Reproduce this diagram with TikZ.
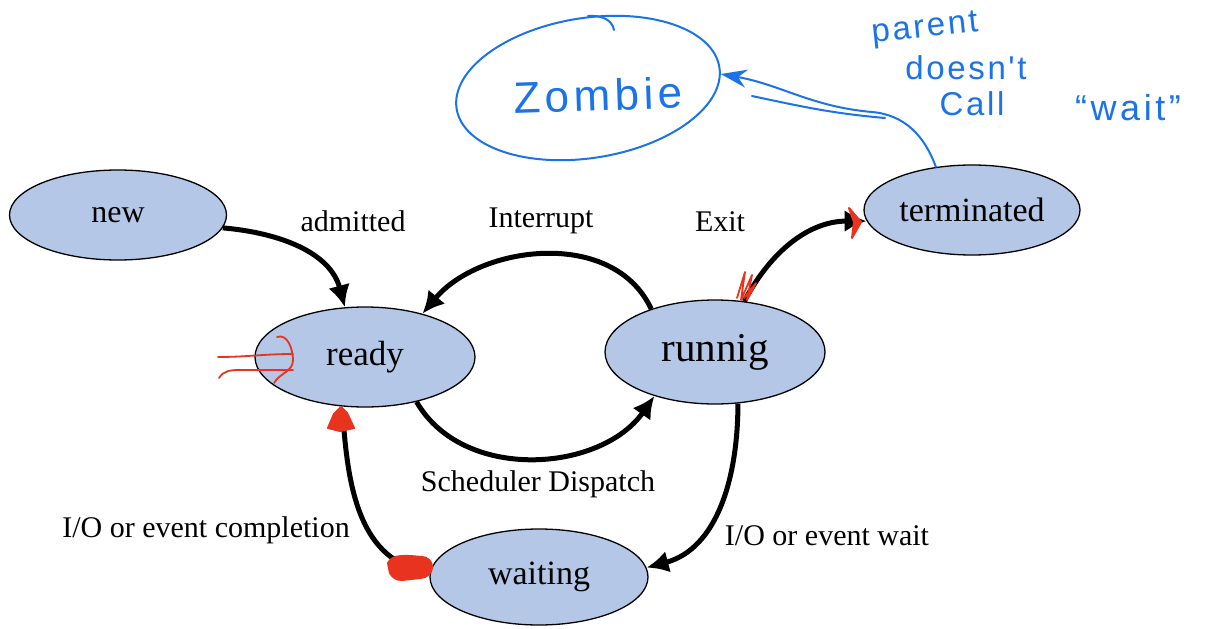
\documentclass[tikz,border=0pt]{standalone}
\usepackage{fontspec}
\setmainfont{Liberation Serif}
\newfontfamily\handfont[LetterSpace=8]{Liberation Sans}
\newfontfamily\handwide[LetterSpace=10]{Liberation Sans}
\usetikzlibrary{shapes.geometric,arrows.meta}
\definecolor{nodefill}{RGB}{180,199,231}
\definecolor{inkblue}{RGB}{26,115,232}
\definecolor{inkred}{RGB}{232,52,30}
\begin{document}
\begin{tikzpicture}[x=1pt,y=-1pt,
  state/.style={ellipse,draw=black,line width=1.3pt,fill=nodefill,inner sep=0pt},
  trans/.style={line width=5pt,-{Latex[length=22pt,width=22pt]}},
  lbl/.style={font=\fontsize{30}{34}\selectfont,inner sep=0pt},
  hand/.style={inkblue,font=\handfont\fontsize{33}{36}\selectfont,inner sep=0pt},
  ink/.style={inkblue,line width=2pt,line cap=round,line join=round},
  redink/.style={inkred,line width=1.8pt,line cap=round,line join=round},
  redblob/.style={inkred,fill=inkred,line width=2pt,line join=round}]
\useasboundingbox (0,0) rectangle (1232,629);

% states
\node[state,minimum width=217pt,minimum height=90pt,font=\fontsize{32}{36}\selectfont] (new) at (118,215) {new};
\node[state,minimum width=220pt,minimum height=100pt,font=\fontsize{35}{40}\selectfont] (ready) at (365,357) {ready};
\node[state,minimum width=220pt,minimum height=104pt,font=\fontsize{41}{46}\selectfont] (run) at (715,352) {runnig};
\node[state,minimum width=216pt,minimum height=90pt,font=\fontsize{34}{38}\selectfont] (term) at (972,210) {terminated};
\node[state,minimum width=218pt,minimum height=96pt,font=\fontsize{34}{38}\selectfont] (wait) at (539,577) {waiting};

% transitions
\draw[trans] (new.-7) to[out=-5,in=105] (ready.112);
\draw[trans] (run.146) to[out=115,in=50] (ready.37);
\draw[trans] (ready.-41) to[out=-60,in=-125] (run.-144);
\draw[trans] (run.-66) to[out=-90,in=15] (wait.5);
\draw[trans] (wait.177) to[out=175,in=-85] (ready.-115);
\draw[trans] (run.60) to[out=62,in=180] (term.186);

% labels
\node[lbl] (ladm) at (353,221) {admitted};
\node[lbl] (lint) at (541,221) {Interrupt};
\node[lbl] (lexit) at (720,222) {Exit};
\node[lbl] (ldisp) at (538,484) {Scheduler Dispatch};
\node[lbl] (lcomp) at (206,530) {I/O or event completion};
\node[lbl] (lwait) at (827,536) {I/O or event wait};

% red scribbles
\draw[redblob] (328,428) -- (334,414) -- (341,407) -- (347,413) -- (354,428) -- (340,431) -- cycle;
\draw[redblob] (388,563) to[out=60,in=180] (410,556) -- (422,557) to[out=0,in=90] (432,567) to[out=-90,in=0] (420,578) -- (402,580) to[out=180,in=-60] (390,573) -- cycle;
\draw[redblob] (849,208) -- (861,222) -- (852,238) -- (854,222) -- cycle;
\draw[redink] (737,298) -- (745,272) -- (741,300) -- (752,275) -- (747,300) -- (756,283) -- (744,298);
\draw[redink] (218,357) to[out=0,in=180] (293,354);
\draw[redink] (219,378) to[out=60,in=180] (240,370) -- (293,370);
\draw[redink] (277,337) to[out=20,in=90] (293,360) to[out=-90,in=60] (274,383);

% zombie annotation
\node[ellipse,draw=inkblue,line width=2pt,minimum width=266pt,minimum height=140pt,rotate=9] (zombie) at (588,88) {};
\draw[ink] (588,16) to[out=5,in=100] (614,30);
\node[inkblue,font=\handwide\fontsize{44}{48}\selectfont,rotate=2] (ztext) at (598,95) {Zombie};
\draw[ink,-{Stealth[length=26pt,width=18pt]}] (term.130) to[out=110,in=-5] (872,112) to[out=175,in=-10] (zombie.-3);
\draw[ink] (885,118) to[out=175,in=-12] (752,96);
\node[hand,rotate=6] (tparent) at (925,30) {parent};
\node[hand] (tdoesnt) at (966,68) {doesn't};
\node[hand] (tcall) at (972,104) {Call};
\node[hand,font=\handwide\fontsize{36}{40}\selectfont] (twait) at (1128,108) {“wait”};
\end{tikzpicture}
\end{document}
